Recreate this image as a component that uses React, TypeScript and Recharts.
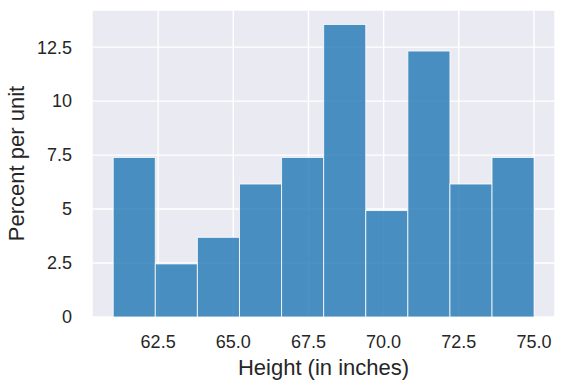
import { BarChart, Bar, XAxis, YAxis, CartesianGrid } from 'recharts';

// bin edges of the height histogram (inches)
const binEdges = [61, 62.4, 63.8, 65.2, 66.6, 68, 69.4, 70.8, 72.2, 73.6, 75];
// percent per unit for each bin
const percentPerUnit = [7.39, 2.46, 3.69, 6.16, 7.39, 13.55, 4.93, 12.32, 6.16, 7.39];

const xTicks = [62.5, 65, 67.5, 70, 72.5, 75];
const yTicks = [0, 2.5, 5, 7.5, 10, 12.5];

const data = percentPerUnit.map((v, i) => ({
  mid: (binEdges[i] + binEdges[i + 1]) / 2,
  value: v,
}));

const W = 565;
const H = 389;
const margin = { top: 10, right: 10, left: 0, bottom: 0 };
const yAxisWidth = 92;
const xDomain: [number, number] = [60.3, 75.7];
const plotWidth = W - margin.left - margin.right - yAxisWidth;
const binWidth = binEdges[1] - binEdges[0];
const barPx = (plotWidth * binWidth) / (xDomain[1] - xDomain[0]);

const font = '"Liberation Sans", Arial, sans-serif';
const tickStyle = { fontSize: 18, fill: '#262626', fontFamily: font };

// recharts narrows bars on a number axis, so widen each one to the full bin
const HistBar = (props: any) => {
  const { x, y, width, height } = props;
  const cx = x + width / 2;
  return (
    <rect
      x={cx - barPx / 2}
      y={y}
      width={barPx}
      height={height}
      fill="#1f77b4"
      fillOpacity={0.8}
      stroke="#ffffff"
      strokeOpacity={0.8}
      strokeWidth={1}
    />
  );
};

function App() {
  return (
    <div style={{ position: 'absolute', left: 0, top: 0, background: '#fff' }}>
      <BarChart width={W} height={H} data={data} margin={margin}>
        <CartesianGrid fill="#EAEAF2" stroke="#ffffff" strokeWidth={1.4} />
        <XAxis
          dataKey="mid"
          type="number"
          domain={xDomain}
          ticks={xTicks}
          tickFormatter={(v: number) => v.toFixed(1)}
          axisLine={false}
          tickLine={false}
          tickSize={0}
          tickMargin={18}
          height={72}
          tick={tickStyle}
          label={{
            value: 'Height (in inches)',
            position: 'insideBottom',
            offset: 14,
            style: { fontSize: 22, fill: '#262626', fontFamily: font },
          }}
        />
        <YAxis
          type="number"
          domain={[0, 14.22]}
          ticks={yTicks}
          axisLine={false}
          tickLine={false}
          tickSize={0}
          tickMargin={20}
          width={yAxisWidth}
          tick={tickStyle}
          label={{
            value: 'Percent per unit',
            angle: -90,
            position: 'insideLeft',
            offset: 16,
            style: { fontSize: 22, fill: '#262626', fontFamily: font, textAnchor: 'middle' },
          }}
        />
        <Bar dataKey="value" shape={HistBar} isAnimationActive={false} />
      </BarChart>
    </div>
  );
}

export default App;
